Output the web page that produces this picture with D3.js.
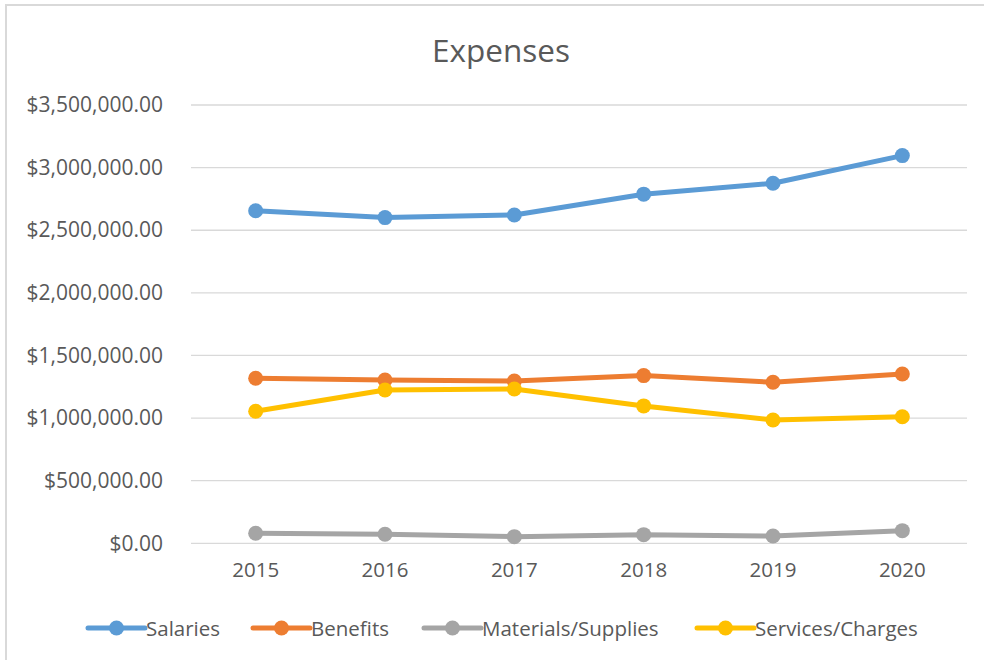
<!DOCTYPE html>
<html>
<head>
<meta charset="utf-8">
<script src="https://cdn.jsdelivr.net/npm/d3@7/dist/d3.min.js"></script>
<style>
  html, body { margin: 0; padding: 0; background: #fff; }
  svg { display: block; }
  text { font-family: "Open Sans", "Noto Sans", sans-serif; fill: #595959; }
</style>
</head>
<body>
<svg id="chart" width="984" height="660"></svg>
<script>
const years = ["2015", "2016", "2017", "2018", "2019", "2020"];
const salaries = [2656000, 2601000, 2622000, 2788000, 2875000, 3096000];
const benefits = [1318000, 1304000, 1296000, 1339000, 1286000, 1352000];
const materials = [80000, 72000, 53000, 69000, 58000, 101000];
const services = [1054000, 1224000, 1232000, 1097000, 985000, 1011000];
const seriesNames = ["Salaries", "Benefits", "Materials/Supplies", "Services/Charges"];
const seriesColors = ["#5b9bd5", "#ed7d31", "#a5a5a5", "#ffc000"];
const yTicks = [0, 500000, 1000000, 1500000, 2000000, 2500000, 3000000, 3500000];
const chartTitle = "Expenses";

const seriesData = [salaries, benefits, materials, services];
const svg = d3.select("#chart");

// outer border
svg.append("rect").attr("x", 6).attr("y", 5).attr("width", 1000).attr("height", 700)
  .attr("fill", "none").attr("stroke", "#d9d9d9").attr("stroke-width", 2);

const plotLeft = 191, plotRight = 967, plotTop = 105, plotBottom = 543.3;
const x = d3.scaleBand().domain(years).range([plotLeft, plotRight]);
const y = d3.scaleLinear().domain([0, 3500000]).range([plotBottom, plotTop]);

const fmt = v => "$" + d3.format(",.2f")(v);

// gridlines
svg.append("g").selectAll("line").data(yTicks).join("line")
  .attr("x1", plotLeft).attr("x2", plotRight)
  .attr("y1", d => y(d)).attr("y2", d => y(d))
  .attr("stroke", "#d9d9d9").attr("stroke-width", 1.3);

// y axis labels
const yAxis = svg.append("g").attr("transform", `translate(${plotLeft},0)`)
  .call(d3.axisLeft(y).tickValues(yTicks).tickFormat(fmt).tickSize(0).tickPadding(28));
yAxis.select(".domain").remove();
yAxis.selectAll("text").attr("font-size", 21).attr("fill", "#595959")
  .style("font-family", "'Open Sans', sans-serif");

// x axis labels
const xAxis = svg.append("g").attr("transform", `translate(0,${plotBottom})`)
  .call(d3.axisBottom(x).tickSize(0).tickPadding(19));
xAxis.select(".domain").remove();
xAxis.selectAll("text").attr("font-size", 20.5).attr("fill", "#595959")
  .style("font-family", "'Open Sans', sans-serif");

// title
svg.append("text").attr("x", 501).attr("y", 62).attr("text-anchor", "middle")
  .attr("font-size", 31.5).text(chartTitle);

// lines
const line = d3.line().x((d, i) => x(years[i]) + x.bandwidth() / 2).y(d => y(d));
seriesData.forEach((vals, si) => {
  const g = svg.append("g");
  g.append("path").datum(vals).attr("d", line)
    .attr("fill", "none").attr("stroke", seriesColors[si]).attr("stroke-width", 5)
    .attr("stroke-linejoin", "round").attr("stroke-linecap", "round");
  g.selectAll("circle").data(vals).join("circle")
    .attr("cx", (d, i) => x(years[i]) + x.bandwidth() / 2)
    .attr("cy", d => y(d)).attr("r", 7.5).attr("fill", seriesColors[si]);
});

// legend
const legendX = [88, 253, 424, 697];
const legend = svg.append("g");
seriesNames.forEach((name, i) => {
  const lg = legend.append("g").attr("transform", `translate(${legendX[i]},628)`);
  lg.append("line").attr("x1", 0).attr("x2", 57).attr("y1", 0).attr("y2", 0)
    .attr("stroke", seriesColors[i]).attr("stroke-width", 5).attr("stroke-linecap", "round");
  lg.append("circle").attr("cx", 28.5).attr("cy", 0).attr("r", 7.5).attr("fill", seriesColors[i]);
  lg.append("text").attr("x", 58).attr("y", 7.5).attr("font-size", 20.5).text(name);
});
</script>
</body>
</html>
